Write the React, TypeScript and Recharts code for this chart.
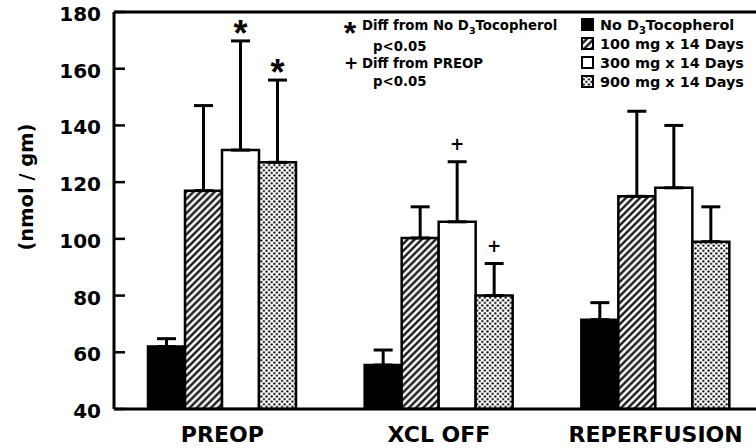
import React from "react";
import { BarChart, Bar, XAxis, YAxis, ErrorBar, LabelList, ReferenceLine } from "recharts";

const categories = ["PREOP", "XCL OFF", "REPERFUSION"];
const noD3 = [62, 55.5, 71.5];
const noD3Err = [2.8, 5.3, 6];
const mg100 = [117, 100.3, 115];
const mg100Err = [30, 11, 30];
const mg300 = [131.3, 106, 118];
const mg300Err = [38.5, 21.2, 22];
const mg900 = [127, 80, 99];
const mg900Err = [29, 11.3, 12.3];
const mark300 = ["*", "+", ""];
const mark900 = ["*", "+", ""];
const yTicks = [40, 60, 80, 100, 120, 140, 160, 180];
const Y_MIN = 40;
const Y_MAX = 180;

const data = categories.map((c, i) => ({
  cat: c,
  noD3: noD3[i],
  noD3E: [0, noD3Err[i]],
  mg100: mg100[i],
  mg100E: [0, mg100Err[i]],
  mg300: mg300[i],
  mg300E: [0, mg300Err[i]],
  mg900: mg900[i],
  mg900E: [0, mg900Err[i]],
  m300: mark300[i],
  m900: mark900[i],
}));

const FONT = "DejaVu Sans";
const STAR_FONT = "Liberation Sans";

const YTick = (props: any) => {
  const { x, y, payload } = props;
  return (
    <g>
      <line x1={x} x2={x + 11} y1={y} y2={y} stroke="#000" strokeWidth={2.5} />
      <text x={x - 13} y={y + 9} textAnchor="end" fontFamily={FONT} fontWeight="bold" fontSize={20} fill="#000">
        {payload.value}
      </text>
    </g>
  );
};

const XTick = (props: any) => {
  const { x, y, payload } = props;
  return (
    <text x={x} y={y + 33} textAnchor="middle" fontFamily={FONT} fontWeight="bold" fontSize={22} fill="#000">
      {payload.value}
    </text>
  );
};

const YLabel = () => (
  <text
    transform="translate(26,187) rotate(-90)"
    textAnchor="middle"
    dominantBaseline="central"
    fontFamily={FONT}
    fontWeight="bold"
    fontSize={19.5}
    fill="#000"
  >
    (nmol / gm)
  </text>
);

const makeMarker = (vals: number[], errs: number[]) => (props: any) => {
  const vb = props.viewBox || {};
  const x = props.x ?? vb.x;
  const y = props.y ?? vb.y;
  const width = props.width ?? vb.width;
  const height = props.height ?? vb.height;
  const { value, index } = props;
  if (!value) return null;
  const v = vals[index];
  const pxPerUnit = height / (v - Y_MIN);
  const capY = y - errs[index] * pxPerUnit;
  const cx = x + width / 2;
  if (value === "*") {
    const S = 36;
    const cy = capY - 16;
    return (
      <text x={cx} y={cy + 0.585 * S} textAnchor="middle" fontFamily={STAR_FONT} fontWeight="bold" fontSize={S} fill="#000">
        *
      </text>
    );
  }
  const S = 17;
  const cy = capY - 18;
  return (
    <text x={cx} y={cy + 0.36 * S} textAnchor="middle" fontFamily={FONT} fontWeight="bold" fontSize={S} fill="#000">
      +
    </text>
  );
};

const Patterns = ({ p }: { p: string }) => (
  <defs>
    <pattern id={p + "hatch"} patternUnits="userSpaceOnUse" width={5} height={5} patternTransform="rotate(45)">
      <rect width={5} height={5} fill="#fff" />
      <line x1={2.5} y1={0} x2={2.5} y2={5} stroke="#000" strokeWidth={2.2} />
    </pattern>
    <pattern id={p + "dots"} patternUnits="userSpaceOnUse" width={5.2} height={5.2}>
      <rect width={5.2} height={5.2} fill="#fff" />
      <circle cx={1.3} cy={1.3} r={1.15} fill="#000" />
      <circle cx={3.9} cy={3.9} r={1.15} fill="#000" />
    </pattern>
  </defs>
);

const legendRows = [
  { fill: "#000", label: "No D", sub: "3", rest: "Tocopherol" },
  { fill: "url(#lghatch)", label: "100 mg x 14 Days" },
  { fill: "#fff", label: "300 mg x 14 Days" },
  { fill: "url(#lgdots)", label: "900 mg x 14 Days" },
];
const legendBaselines = [30, 49, 68, 87];

const Overlay = () => (
  <svg width={756} height={448} style={{ position: "absolute", left: 0, top: 0, pointerEvents: "none" }}>
    <Patterns p="lg" />
    {legendRows.map((r, i) => (
      <g key={i}>
        <rect x={582} y={legendBaselines[i] - 11} width={11} height={11} fill={r.fill} stroke="#000" strokeWidth={2} />
        <text x={600} y={legendBaselines[i]} fontFamily={FONT} fontWeight="bold" fontSize={14.4} fill="#000">
          {r.label}
          {r.sub ? (
            <>
              <tspan fontSize={10} dy={4}>{r.sub}</tspan>
              <tspan dy={-4}>{r.rest}</tspan>
            </>
          ) : null}
        </text>
      </g>
    ))}
    <text x={350} y={25 + 0.585 * 32} textAnchor="middle" fontFamily={STAR_FONT} fontWeight="bold" fontSize={32} fill="#000">*</text>
    <text x={362} y={30} fontFamily={FONT} fontWeight="bold" fontSize={13.3} fill="#000">
      Diff from No D<tspan fontSize={9.5} dy={4}>3</tspan><tspan dy={-4}>Tocopherol</tspan>
    </text>
    <text x={373} y={51} fontFamily={FONT} fontWeight="bold" fontSize={13.3} fill="#000">p&lt;0.05</text>
    <text x={351} y={63 + 0.36 * 17} textAnchor="middle" fontFamily={FONT} fontWeight="bold" fontSize={17} fill="#000">+</text>
    <text x={362} y={68} fontFamily={FONT} fontWeight="bold" fontSize={13.3} fill="#000">Diff from PREOP</text>
    <text x={373} y={86} fontFamily={FONT} fontWeight="bold" fontSize={13.3} fill="#000">p&lt;0.05</text>
  </svg>
);

export default function App() {
  return (
    <div style={{ position: "absolute", left: 0, top: 0, width: 756, height: 448, overflow: "hidden", background: "#fff" }}>
      <BarChart
        width={764}
        height={448}
        data={data}
        margin={{ top: 12, right: 0, bottom: 0, left: 0 }}
        barCategoryGap={34}
        barGap={0}
      >
        <Patterns p="ch" />
        <XAxis
          dataKey="cat"
          height={39}
          tickLine={false}
          tickSize={0}
          tickMargin={0}
          axisLine={{ stroke: "#000", strokeWidth: 3 }}
          tick={<XTick />}
          interval={0}
        />
        <YAxis
          width={114}
          domain={[Y_MIN, Y_MAX]}
          ticks={yTicks}
          type="number"
          allowDataOverflow
          tickLine={false}
          tickSize={0}
          tickMargin={0}
          axisLine={{ stroke: "#000", strokeWidth: 3 }}
          tick={<YTick />}
          label={<YLabel />}
        />
        <ReferenceLine y={Y_MAX} stroke="#000" strokeWidth={3} ifOverflow="visible" />
        <Bar dataKey="noD3" fill="#000" stroke="#000" strokeWidth={2.5} isAnimationActive={false}>
          <ErrorBar dataKey="noD3E" direction="y" width={9.5} stroke="#000" strokeWidth={3} />
        </Bar>
        <Bar dataKey="mg100" fill="url(#chhatch)" stroke="#000" strokeWidth={2.5} isAnimationActive={false}>
          <ErrorBar dataKey="mg100E" direction="y" width={9.5} stroke="#000" strokeWidth={3} />
        </Bar>
        <Bar dataKey="mg300" fill="#fff" stroke="#000" strokeWidth={2.5} isAnimationActive={false}>
          <ErrorBar dataKey="mg300E" direction="y" width={9.5} stroke="#000" strokeWidth={3} />
          <LabelList dataKey="m300" content={makeMarker(mg300, mg300Err)} />
        </Bar>
        <Bar dataKey="mg900" fill="url(#chdots)" stroke="#000" strokeWidth={2.5} isAnimationActive={false}>
          <ErrorBar dataKey="mg900E" direction="y" width={9.5} stroke="#000" strokeWidth={3} />
          <LabelList dataKey="m900" content={makeMarker(mg900, mg900Err)} />
        </Bar>
      </BarChart>
      <Overlay />
    </div>
  );
}
